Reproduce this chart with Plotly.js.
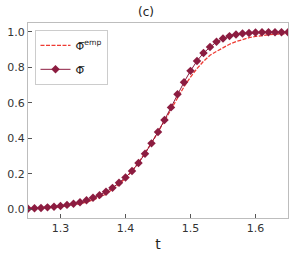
<!DOCTYPE html>
<html><head><meta charset="utf-8">
<script src="https://cdn.plot.ly/plotly-3.0.1.min.js"></script>
<style>html,body{margin:0;padding:0;background:#fff}#chart{width:298px;height:255px}</style>
</head><body><div id="chart"></div>
<script>
const tValues = [1.25,1.26,1.27,1.28,1.29,1.30,1.31,1.32,1.33,1.34,1.35,1.36,1.37,1.38,1.39,1.40,1.41,1.42,1.43,1.44,1.45,1.46,1.47,1.48,1.49,1.50,1.51,1.52,1.53,1.54,1.55,1.56,1.57,1.58,1.59,1.60,1.61,1.62,1.63,1.64,1.65];
const phiBar = [0.002,0.005,0.007,0.010,0.014,0.018,0.024,0.030,0.039,0.050,0.064,0.079,0.098,0.120,0.149,0.179,0.215,0.260,0.313,0.371,0.435,0.503,0.574,0.648,0.716,0.780,0.836,0.881,0.915,0.944,0.962,0.976,0.985,0.991,0.994,0.996,0.998,0.998,0.998,0.998,0.998];
const phiEmp = [0.002,0.003,0.005,0.007,0.010,0.013,0.018,0.023,0.030,0.039,0.051,0.066,0.085,0.110,0.140,0.175,0.215,0.262,0.315,0.372,0.435,0.500,0.566,0.630,0.690,0.745,0.793,0.834,0.868,0.890,0.912,0.930,0.945,0.957,0.967,0.974,0.980,0.984,0.987,0.989,0.990];
const xTicks = [1.3,1.4,1.5,1.6];
const yTicks = [0.0,0.2,0.4,0.6,0.8,1.0];

const traces = [
  {x: tValues, y: phiEmp, type: 'scatter', mode: 'lines', name: 'Φ̅<sup>emp</sup>',
   legendgroup: 'emp',
   line: {color: '#ee3b33', width: 1.3, dash: '4px,1.5px'}},
  {x: tValues, y: phiBar, type: 'scatter', mode: 'lines+markers', name: 'Φ̅',
   legendgroup: 'bar',
   line: {color: '#8c1c40', width: 1},
   marker: {symbol: 'diamond', size: 6.5, color: '#8c1c40'}}
];
const axisCommon = {showgrid: false, zeroline: false, showline: true, mirror: true,
  linecolor: '#bdbdbd', linewidth: 1, ticks: 'inside', ticklen: 4, tickcolor: '#555',
  tickfont: {family: 'DejaVu Sans', size: 11, color: '#333'}};
const layout = {
  width: 298, height: 255,
  margin: {l: 28, r: 10, t: 23, b: 37},
  paper_bgcolor: '#fff', plot_bgcolor: '#fff',
  title: {text: '(c)', x: 0.49, xanchor: 'center', y: 0.953, yanchor: 'middle',
    font: {family: 'DejaVu Sans', size: 12, color: '#222'}},
  xaxis: Object.assign({}, axisCommon, {range: [1.25, 1.65], tickvals: xTicks,
    ticktext: xTicks.map(v => v.toFixed(1)),
    title: {text: 't', standoff: 4, font: {family: 'DejaVu Sans', size: 14, color: '#222'}}}),
  yaxis: Object.assign({}, axisCommon, {range: [-0.05, 1.05], tickvals: yTicks,
    ticktext: yTicks.map(v => v.toFixed(1))}),
  showlegend: true,
  legend: {x: 0.025, y: 0.965, xanchor: 'left', yanchor: 'top',
    traceorder: 'grouped', tracegroupgap: 5,
    bgcolor: 'rgba(255,255,255,0.9)', bordercolor: '#ccc', borderwidth: 1,
    font: {family: 'DejaVu Sans', size: 11, color: '#222'}, itemwidth: 30}
};
Plotly.newPlot('chart', traces, layout, {staticPlot: true, displayModeBar: false});
</script></body></html>
